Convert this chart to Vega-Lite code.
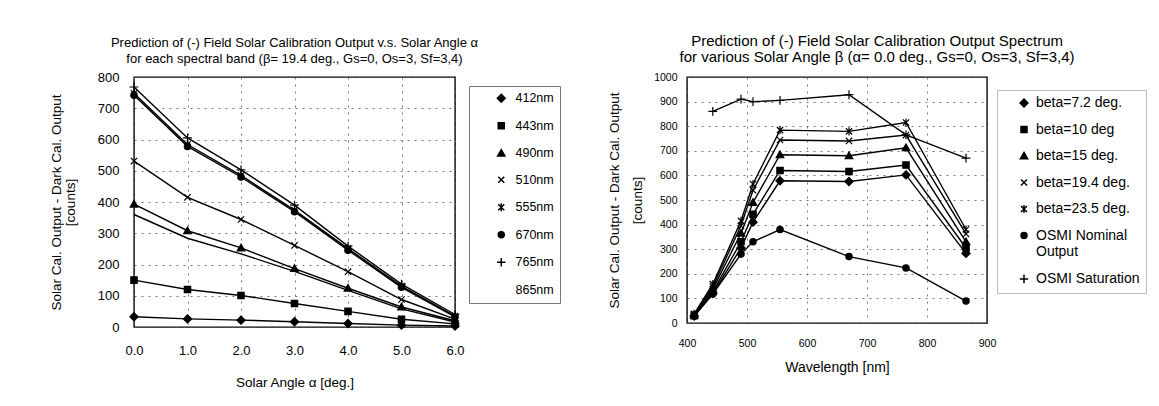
{
  "$schema": "https://vega.github.io/schema/vega-lite/v6.json",
  "background": "white",
  "padding": {"left": 48, "top": 33, "right": 0, "bottom": 0},
  "config": {
    "font": "Liberation Sans",
    "view": {"stroke": "black", "strokeWidth": 1.4},
    "axis": {
      "gridColor": "#555", "gridDash": [2, 5], "gridWidth": 0.8,
      "domain": false, "ticks": false, "labelFlush": false, "labelOverlap": false,
      "labelColor": "black", "titleColor": "black", "titleFontWeight": "normal",
      "labelFont": "Liberation Sans", "titleFont": "Liberation Sans"
    },
    "legend": {"labelFont": "Liberation Sans", "labelColor": "black"},
    "title": {"fontWeight": "normal", "color": "black", "font": "Liberation Sans"}
  },
  "datasets": {
    "alpha": [
      {"angle": 0, "band": "412nm", "counts": 33}, {"angle": 1, "band": "412nm", "counts": 26}, {"angle": 2, "band": "412nm", "counts": 22}, {"angle": 3, "band": "412nm", "counts": 17}, {"angle": 4, "band": "412nm", "counts": 11}, {"angle": 5, "band": "412nm", "counts": 6}, {"angle": 6, "band": "412nm", "counts": 3},
      {"angle": 0, "band": "443nm", "counts": 150}, {"angle": 1, "band": "443nm", "counts": 120}, {"angle": 2, "band": "443nm", "counts": 101}, {"angle": 3, "band": "443nm", "counts": 75}, {"angle": 4, "band": "443nm", "counts": 50}, {"angle": 5, "band": "443nm", "counts": 25}, {"angle": 6, "band": "443nm", "counts": 10},
      {"angle": 0, "band": "490nm", "counts": 393}, {"angle": 1, "band": "490nm", "counts": 308}, {"angle": 2, "band": "490nm", "counts": 253}, {"angle": 3, "band": "490nm", "counts": 187}, {"angle": 4, "band": "490nm", "counts": 124}, {"angle": 5, "band": "490nm", "counts": 64}, {"angle": 6, "band": "490nm", "counts": 20},
      {"angle": 0, "band": "510nm", "counts": 531}, {"angle": 1, "band": "510nm", "counts": 415}, {"angle": 2, "band": "510nm", "counts": 344}, {"angle": 3, "band": "510nm", "counts": 261}, {"angle": 4, "band": "510nm", "counts": 177}, {"angle": 5, "band": "510nm", "counts": 88}, {"angle": 6, "band": "510nm", "counts": 25},
      {"angle": 0, "band": "555nm", "counts": 748}, {"angle": 1, "band": "555nm", "counts": 584}, {"angle": 2, "band": "555nm", "counts": 485}, {"angle": 3, "band": "555nm", "counts": 374}, {"angle": 4, "band": "555nm", "counts": 251}, {"angle": 5, "band": "555nm", "counts": 131}, {"angle": 6, "band": "555nm", "counts": 35},
      {"angle": 0, "band": "670nm", "counts": 742}, {"angle": 1, "band": "670nm", "counts": 578}, {"angle": 2, "band": "670nm", "counts": 480}, {"angle": 3, "band": "670nm", "counts": 369}, {"angle": 4, "band": "670nm", "counts": 246}, {"angle": 5, "band": "670nm", "counts": 127}, {"angle": 6, "band": "670nm", "counts": 32},
      {"angle": 0, "band": "765nm", "counts": 768}, {"angle": 1, "band": "765nm", "counts": 605}, {"angle": 2, "band": "765nm", "counts": 503}, {"angle": 3, "band": "765nm", "counts": 390}, {"angle": 4, "band": "765nm", "counts": 259}, {"angle": 5, "band": "765nm", "counts": 137}, {"angle": 6, "band": "765nm", "counts": 40},
      {"angle": 0, "band": "865nm", "counts": 360}, {"angle": 1, "band": "865nm", "counts": 284}, {"angle": 2, "band": "865nm", "counts": 234}, {"angle": 3, "band": "865nm", "counts": 178}, {"angle": 4, "band": "865nm", "counts": 117}, {"angle": 5, "band": "865nm", "counts": 58}, {"angle": 6, "band": "865nm", "counts": 16}
    ],
    "beta": [
      {"wavelength": 412, "series": "beta=7.2 deg.", "counts": 28}, {"wavelength": 443, "series": "beta=7.2 deg.", "counts": 120}, {"wavelength": 490, "series": "beta=7.2 deg.", "counts": 305}, {"wavelength": 510, "series": "beta=7.2 deg.", "counts": 410}, {"wavelength": 555, "series": "beta=7.2 deg.", "counts": 578}, {"wavelength": 670, "series": "beta=7.2 deg.", "counts": 575}, {"wavelength": 765, "series": "beta=7.2 deg.", "counts": 602}, {"wavelength": 865, "series": "beta=7.2 deg.", "counts": 283},
      {"wavelength": 412, "series": "beta=10 deg", "counts": 30}, {"wavelength": 443, "series": "beta=10 deg", "counts": 128}, {"wavelength": 490, "series": "beta=10 deg", "counts": 330}, {"wavelength": 510, "series": "beta=10 deg", "counts": 442}, {"wavelength": 555, "series": "beta=10 deg", "counts": 620}, {"wavelength": 670, "series": "beta=10 deg", "counts": 616}, {"wavelength": 765, "series": "beta=10 deg", "counts": 642}, {"wavelength": 865, "series": "beta=10 deg", "counts": 305},
      {"wavelength": 412, "series": "beta=15 deg.", "counts": 32}, {"wavelength": 443, "series": "beta=15 deg.", "counts": 138}, {"wavelength": 490, "series": "beta=15 deg.", "counts": 365}, {"wavelength": 510, "series": "beta=15 deg.", "counts": 490}, {"wavelength": 555, "series": "beta=15 deg.", "counts": 684}, {"wavelength": 670, "series": "beta=15 deg.", "counts": 680}, {"wavelength": 765, "series": "beta=15 deg.", "counts": 712}, {"wavelength": 865, "series": "beta=15 deg.", "counts": 330},
      {"wavelength": 412, "series": "beta=19.4 deg.", "counts": 35}, {"wavelength": 443, "series": "beta=19.4 deg.", "counts": 148}, {"wavelength": 490, "series": "beta=19.4 deg.", "counts": 395}, {"wavelength": 510, "series": "beta=19.4 deg.", "counts": 540}, {"wavelength": 555, "series": "beta=19.4 deg.", "counts": 744}, {"wavelength": 670, "series": "beta=19.4 deg.", "counts": 740}, {"wavelength": 765, "series": "beta=19.4 deg.", "counts": 764}, {"wavelength": 865, "series": "beta=19.4 deg.", "counts": 362},
      {"wavelength": 412, "series": "beta=23.5 deg.", "counts": 37}, {"wavelength": 443, "series": "beta=23.5 deg.", "counts": 158}, {"wavelength": 490, "series": "beta=23.5 deg.", "counts": 415}, {"wavelength": 510, "series": "beta=23.5 deg.", "counts": 565}, {"wavelength": 555, "series": "beta=23.5 deg.", "counts": 784}, {"wavelength": 670, "series": "beta=23.5 deg.", "counts": 779}, {"wavelength": 765, "series": "beta=23.5 deg.", "counts": 815}, {"wavelength": 865, "series": "beta=23.5 deg.", "counts": 380},
      {"wavelength": 412, "series": "OSMI Nominal Output", "counts": 28}, {"wavelength": 443, "series": "OSMI Nominal Output", "counts": 118}, {"wavelength": 490, "series": "OSMI Nominal Output", "counts": 280}, {"wavelength": 510, "series": "OSMI Nominal Output", "counts": 330}, {"wavelength": 555, "series": "OSMI Nominal Output", "counts": 380}, {"wavelength": 670, "series": "OSMI Nominal Output", "counts": 270}, {"wavelength": 765, "series": "OSMI Nominal Output", "counts": 224}, {"wavelength": 865, "series": "OSMI Nominal Output", "counts": 89},
      {"wavelength": 443, "series": "OSMI Saturation", "counts": 860}, {"wavelength": 490, "series": "OSMI Saturation", "counts": 910}, {"wavelength": 510, "series": "OSMI Saturation", "counts": 900}, {"wavelength": 555, "series": "OSMI Saturation", "counts": 905}, {"wavelength": 670, "series": "OSMI Saturation", "counts": 928}, {"wavelength": 765, "series": "OSMI Saturation", "counts": 765}, {"wavelength": 865, "series": "OSMI Saturation", "counts": 670}
    ]
  },
  "hconcat": [
    {
      "width": 321,
      "height": 250,
      "title": {
        "text": ["Prediction of (-) Field Solar Calibration Output v.s. Solar Angle α", "for each spectral band (β= 19.4 deg., Gs=0, Os=3, Sf=3,4)"],
        "fontSize": 13, "lineHeight": 16, "offset": 5, "frame": "group", "anchor": "middle"
      },
      "data": {"name": "alpha"},
      "encoding": {
        "x": {
          "field": "angle", "type": "quantitative",
          "scale": {"domain": [0, 6], "nice": false, "zero": false},
          "axis": {"values": [0, 1, 2, 3, 4, 5, 6], "format": ".1f", "title": "Solar Angle α [deg.]", "labelFontSize": 13, "titleFontSize": 13.5, "labelPadding": 17, "titlePadding": 18}
        },
        "y": {
          "field": "counts", "type": "quantitative",
          "scale": {"domain": [0, 800], "nice": false},
          "axis": {"values": [0, 100, 200, 300, 400, 500, 600, 700, 800], "title": ["Solar Cal. Output - Dark Cal. Output", "[counts]"], "titleFontSize": 13.5, "titleLineHeight": 14, "labelFontSize": 13, "labelPadding": 15, "titlePadding": 20}
        }
      },
      "layer": [
        {"mark": {"type": "line", "color": "black", "strokeWidth": 1.4}, "encoding": {"detail": {"field": "band", "type": "nominal"}}},
        {
          "mark": {"type": "point", "filled": true, "fill": "black", "stroke": "black", "strokeWidth": 1.2, "opacity": 1, "size": 40},
          "encoding": {
            "shape": {
              "field": "band", "type": "nominal",
              "scale": {
                "domain": ["412nm", "443nm", "490nm", "510nm", "555nm", "670nm", "765nm", "865nm"],
                "range": ["M0,-1.3L1.3,0L0,1.3L-1.3,0Z", "M-1,-1H1V1H-1Z", "M0,-1.2L1.2,0.9H-1.2Z", "M-1,-1L1,1M-1,1L1,-1", "M-1,-1L1,1M-1,1L1,-1M0,-1.3V1.3", "M-1,0A1,1,0,1,1,1,0A1,1,0,1,1,-1,0Z", "M-1.4,0H1.4M0,-1.4V1.4", "M0,0Z"]
              },
              "legend": {
                "orient": "none", "legendX": 335, "legendY": 9, "title": null,
                "labelFontSize": 12.5, "symbolSize": 36, "symbolOffset": 20, "labelOffset": 8,
                "rowPadding": 13.5, "padding": 6, "strokeColor": "#777",
                "encode": {
                  "legend": {"strokeDash": {"value": [2, 3]}},
                  "symbols": {"fill": {"value": "black"}, "stroke": {"value": "black"}, "strokeWidth": {"value": 1.2}, "opacity": {"value": 1}}
                }
              }
            }
          }
        }
      ]
    },
    {
      "width": 300,
      "height": 246,
      "title": {
        "text": ["Prediction of (-) Field Solar Calibration Output Spectrum", "for various Solar Angle β  (α= 0.0 deg., Gs=0, Os=3, Sf=3,4)"],
        "fontSize": 15, "lineHeight": 16, "offset": 7, "frame": "bounds", "anchor": "middle"
      },
      "data": {"name": "beta"},
      "encoding": {
        "x": {
          "field": "wavelength", "type": "quantitative",
          "scale": {"domain": [400, 900], "nice": false, "zero": false},
          "axis": {"values": [400, 500, 600, 700, 800, 900], "title": "Wavelength [nm]", "labelFontSize": 10.5, "titleFontSize": 14, "labelPadding": 15, "titlePadding": 12}
        },
        "y": {
          "field": "counts", "type": "quantitative",
          "scale": {"domain": [0, 1000], "nice": false},
          "axis": {"values": [0, 100, 200, 300, 400, 500, 600, 700, 800, 900, 1000], "format": "d", "title": ["Solar Cal. Output - Dark Cal. Output", "[counts]"], "titleFontSize": 13.5, "titleLineHeight": 23, "labelFontSize": 10.5, "labelPadding": 10, "titlePadding": 9}
        }
      },
      "layer": [
        {"mark": {"type": "line", "color": "black", "strokeWidth": 1.4}, "encoding": {"detail": {"field": "series", "type": "nominal"}}},
        {
          "mark": {"type": "point", "filled": true, "fill": "black", "stroke": "black", "strokeWidth": 1.2, "opacity": 1, "size": 40},
          "encoding": {
            "shape": {
              "field": "series", "type": "nominal",
              "scale": {
                "domain": ["beta=7.2 deg.", "beta=10 deg", "beta=15 deg.", "beta=19.4 deg.", "beta=23.5 deg.", "OSMI Nominal Output", "OSMI Saturation"],
                "range": ["M0,-1.3L1.3,0L0,1.3L-1.3,0Z", "M-1,-1H1V1H-1Z", "M0,-1.2L1.2,0.9H-1.2Z", "M-1,-1L1,1M-1,1L1,-1", "M-1,-1L1,1M-1,1L1,-1M0,-1.3V1.3", "M-1,0A1,1,0,1,1,1,0A1,1,0,1,1,-1,0Z", "M-1.4,0H1.4M0,-1.4V1.4"]
              },
              "legend": {
                "orient": "none", "legendX": 310, "legendY": 13, "title": null,
                "labelFontSize": 14, "symbolSize": 36, "symbolOffset": 14, "labelOffset": 5,
                "rowPadding": 12.5, "padding": 6, "strokeColor": "#bbb",
                "labelExpr": "datum.label == 'OSMI Nominal Output' ? ['OSMI Nominal', 'Output'] : datum.label",
                "encode": {
                  "legend": {"strokeDash": {"value": [2, 3]}},
                  "symbols": {"fill": {"value": "black"}, "stroke": {"value": "black"}, "strokeWidth": {"value": 1.2}, "opacity": {"value": 1}}
                }
              }
            }
          }
        }
      ]
    }
  ],
  "resolve": {"scale": {"shape": "independent"}, "legend": {"shape": "independent"}},
  "spacing": 44,
  "align": "none",
  "bounds": "full"
}
